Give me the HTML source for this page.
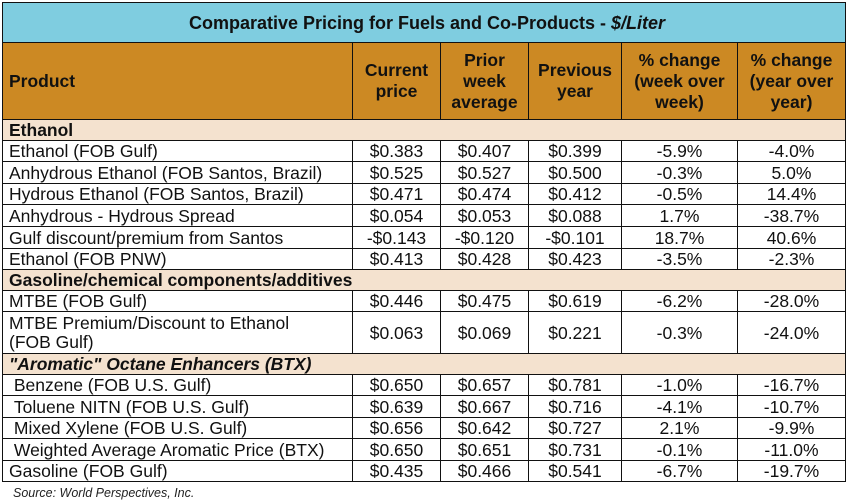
<!DOCTYPE html>
<html><head><style>
body{margin:0;width:847px;height:504px;background:#fff;font-family:"Liberation Sans",Arial,sans-serif;position:relative;overflow:hidden}
table{position:absolute;left:2px;top:2px;border-collapse:collapse;table-layout:fixed;width:843px}
td{border:1.3px solid #111;padding:0 0 0 6px;font-size:17.5px;color:#111;white-space:nowrap;line-height:18px;overflow:hidden}
td.n{text-align:center;padding:0}
tr.t td{background:#7fcde0;font-weight:bold;font-size:18px;text-align:center;height:39px}
tr.h td{background:#cc8923;font-weight:bold;font-size:17.5px;height:76px;line-height:21px}
tr.h td.n{text-align:center}
tr.s td{background:#f4e2cf;font-weight:bold;font-size:17.5px;height:20px;border-left:none;border-right:none}
tr.s td:first-child{border-left:1.3px solid #111}
tr.s td:last-child{border-right:1.3px solid #111}
tr.r td{height:20px}
tr.b td{height:21px}
.src{position:absolute;left:13px;top:486px;font-size:12.5px;font-style:italic;color:#222}
</style></head><body>
<table>
<colgroup><col style="width:350px"><col style="width:88px"><col style="width:88px"><col style="width:93px"><col style="width:116px"><col style="width:108px"></colgroup>
<tr class="t"><td colspan="6">Comparative Pricing for Fuels and Co-Products - <i>$/Liter</i></td></tr>
<tr class="h"><td>Product</td><td class="n">Current<br>price</td><td class="n">Prior<br>week<br>average</td><td class="n">Previous<br>year</td><td class="n">% change<br>(week over<br>week)</td><td class="n">% change<br>(year over<br>year)</td></tr>
<tr class="s"><td colspan="6">Ethanol</td></tr>
<tr class="r"><td>Ethanol (FOB Gulf)</td><td class="n">$0.383</td><td class="n">$0.407</td><td class="n">$0.399</td><td class="n">-5.9%</td><td class="n">-4.0%</td></tr>
<tr class="r b"><td>Anhydrous Ethanol (FOB Santos, Brazil)</td><td class="n">$0.525</td><td class="n">$0.527</td><td class="n">$0.500</td><td class="n">-0.3%</td><td class="n">5.0%</td></tr>
<tr class="r"><td>Hydrous Ethanol (FOB Santos, Brazil)</td><td class="n">$0.471</td><td class="n">$0.474</td><td class="n">$0.412</td><td class="n">-0.5%</td><td class="n">14.4%</td></tr>
<tr class="r b"><td>Anhydrous - Hydrous Spread</td><td class="n">$0.054</td><td class="n">$0.053</td><td class="n">$0.088</td><td class="n">1.7%</td><td class="n">-38.7%</td></tr>
<tr class="r b"><td>Gulf discount/premium from Santos</td><td class="n">-$0.143</td><td class="n">-$0.120</td><td class="n">-$0.101</td><td class="n">18.7%</td><td class="n">40.6%</td></tr>
<tr class="r"><td>Ethanol (FOB PNW)</td><td class="n">$0.413</td><td class="n">$0.428</td><td class="n">$0.423</td><td class="n">-3.5%</td><td class="n">-2.3%</td></tr>
<tr class="s"><td colspan="6">Gasoline/chemical components/additives</td></tr>
<tr class="r"><td>MTBE (FOB Gulf)</td><td class="n">$0.446</td><td class="n">$0.475</td><td class="n">$0.619</td><td class="n">-6.2%</td><td class="n">-28.0%</td></tr>
<tr class="r"><td style="height:41px;line-height:19px">MTBE Premium/Discount to Ethanol<br>(FOB Gulf)</td><td class="n">$0.063</td><td class="n">$0.069</td><td class="n">$0.221</td><td class="n">-0.3%</td><td class="n">-24.0%</td></tr>
<tr class="s"><td colspan="6"><i>"Aromatic" Octane Enhancers (BTX)</i></td></tr>
<tr class="r"><td>&nbsp;Benzene (FOB U.S. Gulf)</td><td class="n">$0.650</td><td class="n">$0.657</td><td class="n">$0.781</td><td class="n">-1.0%</td><td class="n">-16.7%</td></tr>
<tr class="r b"><td>&nbsp;Toluene NITN (FOB U.S. Gulf)</td><td class="n">$0.639</td><td class="n">$0.667</td><td class="n">$0.716</td><td class="n">-4.1%</td><td class="n">-10.7%</td></tr>
<tr class="r"><td>&nbsp;Mixed Xylene (FOB U.S. Gulf)</td><td class="n">$0.656</td><td class="n">$0.642</td><td class="n">$0.727</td><td class="n">2.1%</td><td class="n">-9.9%</td></tr>
<tr class="r b"><td>&nbsp;Weighted Average Aromatic Price (BTX)</td><td class="n">$0.650</td><td class="n">$0.651</td><td class="n">$0.731</td><td class="n">-0.1%</td><td class="n">-11.0%</td></tr>
<tr class="r"><td>Gasoline (FOB Gulf)</td><td class="n">$0.435</td><td class="n">$0.466</td><td class="n">$0.541</td><td class="n">-6.7%</td><td class="n">-19.7%</td></tr>
</table>
<div class="src">Source: World Perspectives, Inc.</div>
</body></html>
